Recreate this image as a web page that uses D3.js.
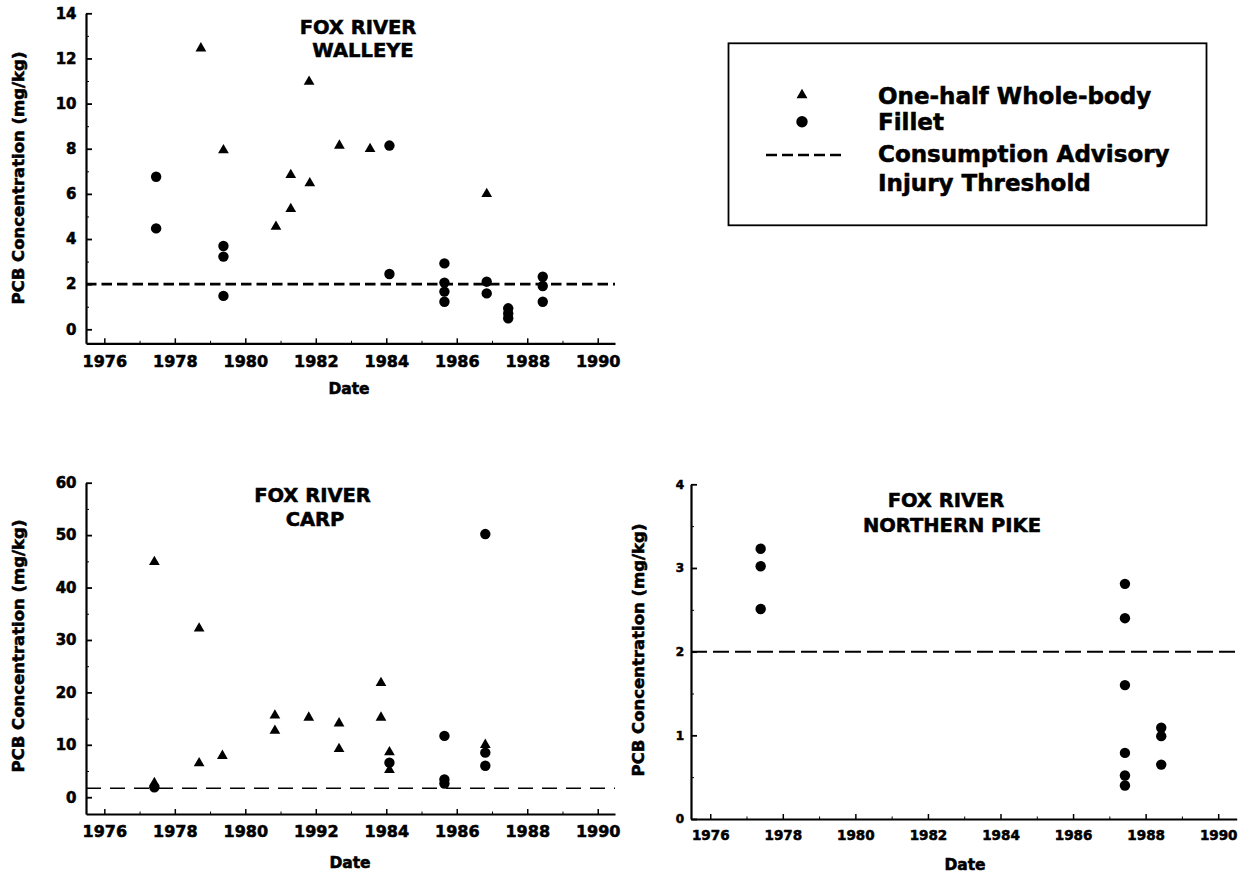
<!DOCTYPE html>
<html>
<head>
<meta charset="utf-8">
<script src="https://cdnjs.cloudflare.com/ajax/libs/d3/7.8.5/d3.min.js"></script>
<style>
	body { margin: 0; background: #fff; }
	svg text { font-family: "DejaVu Sans", sans-serif; font-weight: bold; fill: #000; stroke: #000; stroke-width: 0.55px; }
	.axis path, .axis line { stroke: #000; }
</style>
</head>
<body>
<div class="chart"></div>
<script>
//==================================
// Data
//==================================
// Walleye
var walleyeWholeYear = [1978.74, 1979.38, 1980.87, 1981.29, 1981.29, 1981.81, 1981.83, 1982.67, 1983.54, 1986.85];
var walleyeWholeValue = [12.45, 7.94, 4.55, 6.84, 5.33, 10.97, 6.47, 8.14, 7.99, 6.0];
var walleyeFilletYear = [1977.47, 1977.47, 1979.38, 1979.38, 1979.38, 1984.09, 1984.09, 1985.65, 1985.65, 1985.65, 1985.65,
	1986.85, 1986.85, 1987.46, 1987.46, 1987.46, 1988.44, 1988.44, 1988.44];
var walleyeFilletValue = [6.76, 4.47, 3.69, 3.22, 1.48, 8.14, 2.45, 2.92, 2.07, 1.67, 1.22,
	2.11, 1.59, 0.93, 0.7, 0.49, 2.33, 1.92, 1.22];

// Carp
var carpWholeYear = [1977.42, 1977.42, 1978.69, 1978.69, 1979.35, 1980.84, 1980.84, 1981.8, 1982.66, 1982.66,
	1983.85, 1983.85, 1984.09, 1984.09, 1986.81];
var carpWholeValue = [44.9, 2.7, 32.2, 6.5, 7.9, 15.6, 12.7, 15.2, 14.1, 9.2, 21.8, 15.2, 8.6, 5.2, 10.0];
var carpFilletYear = [1977.42, 1984.09, 1985.65, 1985.65, 1985.65, 1986.81, 1986.81, 1986.81];
var carpFilletValue = [1.9, 6.6, 11.7, 3.4, 2.6, 50.2, 8.5, 6.0];

// Northern pike
var pikeFilletYear = [1977.39, 1977.39, 1977.39, 1987.43, 1987.43, 1987.43, 1987.43, 1987.43, 1987.43,
	1988.43, 1988.43, 1988.43];
var pikeFilletValue = [3.23, 3.02, 2.51, 2.81, 2.40, 1.60, 0.79, 0.52, 0.40, 1.09, 0.99, 0.65];

// Advisory threshold (mg/kg) as drawn on each panel
var walleyeAdvisory = 2;
var carpAdvisory = 1.7;
var pikeAdvisory = 2;

// Ticks and labels
var yearTicks = [1976, 1978, 1980, 1982, 1984, 1986, 1988, 1990];
var yearMinorTicks = [1977, 1979, 1981, 1983, 1985, 1987, 1989];
var yearLabels = ["1976", "1978", "1980", "1982", "1984", "1986", "1988", "1990"];
var carpYearLabels = ["1976", "1978", "1980", "1992", "1984", "1986", "1988", "1990"];
var walleyeYTicks = [0, 2, 4, 6, 8, 10, 12, 14];
var walleyeYMinor = [1, 3, 5, 7, 9, 11, 13];
var carpYTicks = [0, 10, 20, 30, 40, 50, 60];
var carpYMinor = [5, 15, 25, 35, 45, 55];
var pikeYTicks = [0, 1, 2, 3, 4];
var pikeYMinor = [0.5, 1.5, 2.5, 3.5];

var legendLabels = ["One-half Whole-body", "Fillet", "Consumption Advisory", "Injury Threshold"];

//==================================
// Set up the page
//==================================
var svgWidth = 1244;
var svgHeight = 878;

var svg = d3
	.select(".chart")
	.append("svg")
	.attr("width", svgWidth)
	.attr("height", svgHeight);

var yTitle = "PCB Concentration (mg/kg)";

// draws one scatter panel
function drawPanel(p) {
	var x = d3.scaleLinear().domain(p.xDomain).range(p.xRange);
	var y = d3.scaleLinear().domain(p.yDomain).range(p.yRange);
	var g = svg.append("g");

	// minor ticks first
	g.append("g")
		.attr("class", "axis")
		.attr("transform", "translate(0," + p.yRange[0] + ")")
		.call(d3.axisBottom(x).tickValues(yearMinorTicks).tickSize(-2.5).tickFormat(""))
		.call(function(a) { a.select(".domain").remove(); });
	g.append("g")
		.attr("class", "axis")
		.attr("transform", "translate(" + p.xRange[0] + ",0)")
		.call(d3.axisLeft(y).tickValues(p.yMinor).tickSize(-3).tickFormat(""))
		.call(function(a) { a.select(".domain").remove(); });

	// x axis
	var xAxis = g.append("g")
		.attr("class", "axis")
		.attr("transform", "translate(0," + p.yRange[0] + ")")
		.call(d3.axisBottom(x)
			.tickValues(yearTicks)
			.tickSize(-5)
			.tickSizeOuter(0)
			.tickPadding(p.xPad)
			.tickFormat(function(d, i) { return p.xLabels[i]; }));
	xAxis.attr("font-size", p.xFont).attr("font-family", null);
	xAxis.select(".domain").attr("stroke-width", 2.2);
	xAxis.selectAll(".tick line").attr("stroke-width", 1.5);

	// y axis
	var yAxis = g.append("g")
		.attr("class", "axis")
		.attr("transform", "translate(" + p.xRange[0] + ",0)")
		.call(d3.axisLeft(y)
			.tickValues(p.yTicks)
			.tickSize(-6)
			.tickSizeOuter(0)
			.tickPadding(p.yPad)
			.tickFormat(d3.format("d")));
	yAxis.attr("font-size", p.yFont).attr("font-family", null);
	yAxis.select(".domain").attr("stroke-width", 2.2);
	yAxis.selectAll(".tick line").attr("stroke-width", 1.8);

	// advisory line
	g.append("line")
		.attr("x1", p.xRange[0])
		.attr("x2", p.xRange[1])
		.attr("y1", y(p.advisory))
		.attr("y2", y(p.advisory))
		.attr("stroke", "#000")
		.attr("stroke-width", p.dashWidth)
		.attr("stroke-dasharray", p.dash);

	// triangles (one-half whole-body)
	if (p.whole) {
		g.selectAll(".whole")
			.data(p.whole)
			.enter()
			.append("path")
			.attr("class", "whole")
			.attr("d", d3.symbol(d3.symbolTriangle, 50))
			.attr("transform", function(d) { return "translate(" + x(d[0]) + "," + y(d[1]) + ")"; })
			.attr("fill", "#000");
	}

	// circles (fillet)
	g.selectAll(".fillet")
		.data(p.fillet)
		.enter()
		.append("circle")
		.attr("class", "fillet")
		.attr("cx", function(d) { return x(d[0]); })
		.attr("cy", function(d) { return y(d[1]); })
		.attr("r", 5.2)
		.attr("fill", "#000");

	// title
	g.selectAll(".title")
		.data(p.title)
		.enter()
		.append("text")
		.attr("x", function(d, i) { return p.titlePos[i][0]; })
		.attr("y", function(d, i) { return p.titlePos[i][1]; })
		.attr("dy", "0.36em")
		.attr("text-anchor", "middle")
		.style("font-size", "19.5px")
		.text(function(d) { return d; });

	// axis titles
	g.append("text")
		.attr("x", p.datePos[0])
		.attr("y", p.datePos[1])
		.attr("dy", "0.36em")
		.attr("text-anchor", "middle")
		.style("font-size", "15.5px")
		.text("Date");

	g.append("text")
		.attr("transform", "translate(" + p.yTitlePos[0] + "," + p.yTitlePos[1] + ") rotate(-90)")
		.attr("dy", "0.36em")
		.attr("text-anchor", "middle")
		.style("font-size", "16.5px")
		.text(yTitle);
}

drawPanel({
	xDomain: [1975.48, 1990.49], xRange: [86, 615],
	yDomain: [-0.62, 14], yRange: [343.3, 13.3],
	yTicks: walleyeYTicks, yMinor: walleyeYMinor,
	xLabels: yearLabels, xFont: 16, xPad: 12.5, yFont: 15, yPad: 9.5,
	advisory: walleyeAdvisory, dash: "10.5,5", dashWidth: 2.8,
	whole: d3.zip(walleyeWholeYear, walleyeWholeValue),
	fillet: d3.zip(walleyeFilletYear, walleyeFilletValue),
	title: ["FOX RIVER", "WALLEYE"], titlePos: [[358, 26.5], [363, 50]],
	datePos: [349, 388], yTitlePos: [18, 178]
});

drawPanel({
	xDomain: [1975.48, 1990.49], xRange: [86, 615],
	yDomain: [-3.2, 60], yRange: [814, 482.7],
	yTicks: carpYTicks, yMinor: carpYMinor,
	xLabels: carpYearLabels, xFont: 16, xPad: 12, yFont: 15, yPad: 9.5,
	advisory: carpAdvisory, dash: "15,9", dashWidth: 1.6,
	whole: d3.zip(carpWholeYear, carpWholeValue),
	fillet: d3.zip(carpFilletYear, carpFilletValue),
	title: ["FOX RIVER", "CARP"], titlePos: [[312.5, 495], [315, 518.5]],
	datePos: [350, 862], yTitlePos: [18, 646]
});

drawPanel({
	xDomain: [1975.47, 1990.51], xRange: [691, 1236.7],
	yDomain: [0, 4], yRange: [819, 484.3],
	yTicks: pikeYTicks, yMinor: pikeYMinor,
	xLabels: yearLabels, xFont: 13.5, xPad: 11.3, yFont: 12, yPad: 7,
	advisory: pikeAdvisory, dash: "16,6", dashWidth: 2,
	whole: null,
	fillet: d3.zip(pikeFilletYear, pikeFilletValue),
	title: ["FOX RIVER", "NORTHERN PIKE"], titlePos: [[946, 500], [952, 525]],
	datePos: [965, 864], yTitlePos: [638, 650]
});

//==================================
// Legend
//==================================
var legend = svg.append("g");

legend.append("rect")
	.attr("x", 728.5)
	.attr("y", 43.3)
	.attr("width", 478)
	.attr("height", 182)
	.attr("fill", "none")
	.attr("stroke", "#000")
	.attr("stroke-width", 1.8);

legend.append("path")
	.attr("d", d3.symbol(d3.symbolTriangle, 52))
	.attr("transform", "translate(802,95)")
	.attr("fill", "#000");

legend.append("circle")
	.attr("cx", 802)
	.attr("cy", 121.7)
	.attr("r", 5.7)
	.attr("fill", "#000");

legend.append("line")
	.attr("x1", 766)
	.attr("x2", 845)
	.attr("y1", 155)
	.attr("y2", 155)
	.attr("stroke", "#000")
	.attr("stroke-width", 2.4)
	.attr("stroke-dasharray", "11,5");

var legendBaselines = [103.5, 130, 162, 190.5];

legend.selectAll(".legend-text")
	.data(legendLabels)
	.enter()
	.append("text")
	.attr("class", "legend-text")
	.attr("x", 878)
	.attr("y", function(d, i) { return legendBaselines[i]; })
	.style("font-size", "23px")
	.text(function(d) { return d; });
</script>
</body>
</html>
